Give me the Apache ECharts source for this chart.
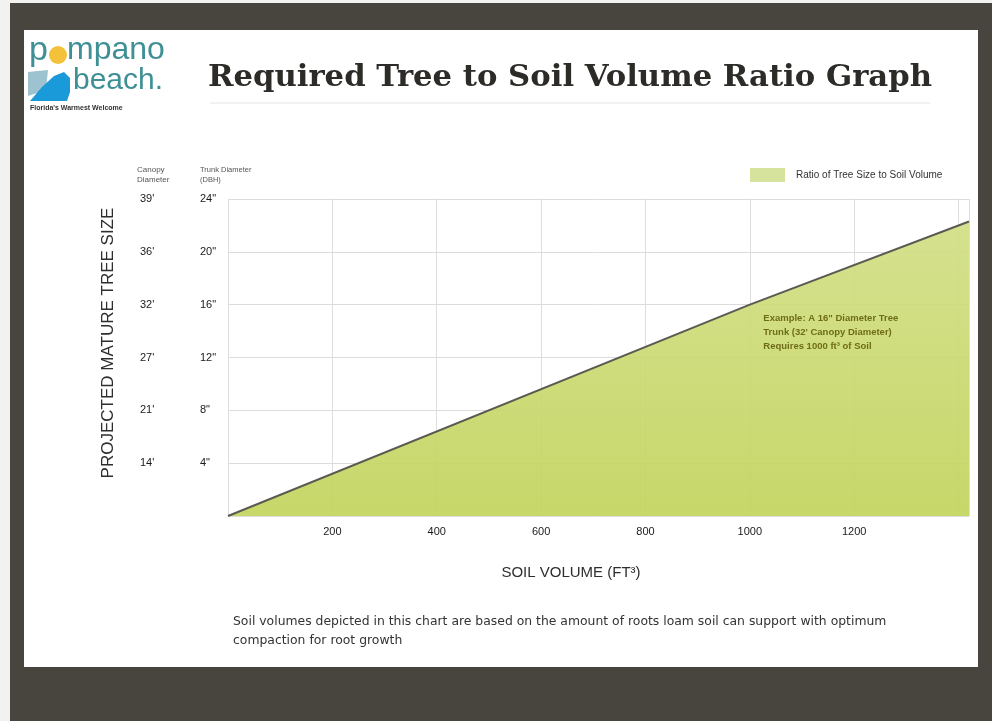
<!DOCTYPE html>
<html>
<head>
<meta charset="utf-8">
<script src="https://cdn.jsdelivr.net/npm/echarts@6/dist/echarts.min.js"></script>
<style>
  html, body { margin: 0; padding: 0; }
  body { width: 992px; height: 721px; background: #48453f; position: relative; overflow: hidden; }
  #edgeL { position: absolute; left: 0; top: 0; width: 10px; height: 721px; background: #f2f2f0; }
  #edgeT { position: absolute; left: 0; top: 0; width: 992px; height: 3px; background: #f2f2f0; }
  #panel { position: absolute; left: 24px; top: 30px; width: 954px; height: 637px; background: #ffffff; }
  #chart { position: absolute; left: 0; top: 0; width: 992px; height: 721px; }
</style>
</head>
<body>
<div id="edgeL"></div>
<div id="edgeT"></div>
<div id="panel"></div>
<div id="chart"></div>
<script>
// Soil volume (ft³) against trunk diameter (in.)
const soilVolume = [0, 1000, 1420];
const trunkDiameter = [0, 16, 22.3];

// Y axis tick labels: trunk diameter (DBH) and matching canopy diameter
const trunkTicks = { 4: '4"', 8: '8"', 12: '12"', 16: '16"', 20: '20"', 24: '24"' };
const canopyTicks = { 4: "14'", 8: "21'", 12: "27'", 16: "32'", 20: "36'", 24: "39'" };

// X axis tick labels
const volumeTicks = [200, 400, 600, 800, 1000, 1200];

const seriesName = 'Ratio of Tree Size to Soil Volume';
const exampleText = 'Example: A 16" Diameter Tree\nTrunk (32\' Canopy Diameter)\nRequires 1000 ft³ of Soil';
const footnote = 'Soil volumes depicted in this chart are based on the amount of roots loam soil can support with optimum\ncompaction for root growth';

const lineData = soilVolume.map((v, i) => [v, trunkDiameter[i]]);

const chart = echarts.init(document.getElementById('chart'), null, { renderer: 'canvas' });

const SANS = 'Liberation Sans, Arial, sans-serif';
const tickFont = { fontFamily: SANS, fontSize: 11, color: '#1a1a1a' };

chart.setOption({
  backgroundColor: 'transparent',
  animation: false,
  grid: { left: 228, right: 23, top: 199, bottom: 205 },
  legend: {
    left: 745, top: 163,
    icon: 'rect', itemWidth: 35, itemHeight: 14, itemGap: 10,
    data: [{ name: seriesName, itemStyle: { color: '#d6e39c' } }],
    textStyle: { fontFamily: SANS, fontSize: 10, color: '#333', padding: [0, 0, 0, 6] }
  },
  xAxis: {
    type: 'value', min: 0, max: 1420, interval: 200,
    axisLine: { show: false }, axisTick: { show: false },
    splitLine: { show: true, lineStyle: { color: '#dedede', width: 1 } },
    axisLabel: {
      ...tickFont, margin: 10, showMaxLabel: false,
      formatter: v => volumeTicks.includes(v) ? String(v) : ''
    }
  },
  yAxis: [
    {
      type: 'value', min: 0, max: 24, interval: 4, position: 'left',
      axisLine: { show: false }, axisTick: { show: false },
      splitLine: { show: true, lineStyle: { color: '#dcdcdc', width: 1 } },
      axisLabel: { ...tickFont, align: 'left', margin: 28, formatter: v => trunkTicks[v] || '' }
    },
    {
      type: 'value', min: 0, max: 24, interval: 4, position: 'left',
      axisLine: { show: false }, axisTick: { show: false }, splitLine: { show: false },
      axisLabel: { ...tickFont, align: 'left', margin: 88, formatter: v => canopyTicks[v] || '' }
    }
  ],
  series: [{
    name: seriesName,
    type: 'line',
    data: lineData,
    showSymbol: false,
    symbol: 'none',
    itemStyle: { color: '#d6e39c' },
    lineStyle: { color: '#5b5a52', width: 2 },
    areaStyle: {
      opacity: 0.93,
      color: new echarts.graphic.LinearGradient(0, 0, 0, 1, [
        { offset: 0, color: '#d2df86' },
        { offset: 1, color: '#c3d45e' }
      ])
    },
    markPoint: {
      symbol: 'circle', symbolSize: 1,
      itemStyle: { color: 'rgba(0,0,0,0)' },
      data: [{ coord: [soilVolume[1], trunkDiameter[1]] }],
      label: {
        show: true, formatter: exampleText, position: [14, 7],
        align: 'left', verticalAlign: 'top',
        fontFamily: SANS, fontSize: 9.5, lineHeight: 14,
        fontWeight: 'bold', color: '#6f6c18'
      }
    }
  }],
  graphic: [
    // logo
    { type: 'polygon', shape: { points: [[28, 72], [48, 70], [46, 90], [28, 96]] }, style: { fill: '#9cc3cf' } },
    { type: 'polygon', shape: { points: [[30, 101], [42, 87], [54, 76], [64, 72], [70, 78], [70, 92], [67, 101]] }, style: { fill: '#1a9ad8' } },
    { type: 'circle', shape: { cx: 58, cy: 55, r: 9 }, style: { fill: '#f3c23a' } },
    { type: 'text', left: 29, top: 34, style: { text: 'p', fontFamily: SANS, fontSize: 34, fill: '#3e9095' } },
    { type: 'text', left: 67, top: 34, style: { text: 'mpano', fontFamily: SANS, fontSize: 32, fill: '#3e9095' } },
    { type: 'text', left: 73, top: 66, style: { text: 'beach.', fontFamily: SANS, fontSize: 30, fill: '#3e9095' } },
    {
      type: 'text', left: 30, top: 105,
      style: { text: "Florida's Warmest Welcome", fontFamily: SANS, fontSize: 7, fontWeight: 'bold', fill: '#333' }
    },
    // title
    {
      type: 'text', left: 208, top: 63,
      style: { text: 'Required Tree to Soil Volume Ratio Graph', fontFamily: 'DejaVu Serif, serif', fontSize: 30.7, fontWeight: 'bold', fill: '#2c2b28' }
    },
    { type: 'line', shape: { x1: 210, y1: 103, x2: 930, y2: 103 }, style: { stroke: '#e4e4e4', lineWidth: 1 } },
    // axis column headers
    {
      type: 'text', left: 137, top: 165,
      style: { text: 'Canopy\nDiameter', fontFamily: SANS, fontSize: 8, lineHeight: 10, fill: '#555' }
    },
    {
      type: 'text', left: 200, top: 165,
      style: { text: 'Trunk Diameter\n(DBH)', fontFamily: SANS, fontSize: 7.5, lineHeight: 10, fill: '#555' }
    },
    // axis titles
    {
      type: 'text', x: 108, y: 343, rotation: Math.PI / 2,
      style: { text: 'PROJECTED MATURE TREE SIZE', fontFamily: SANS, fontSize: 17, fill: '#2e2e2e', align: 'center', verticalAlign: 'middle' }
    },
    {
      type: 'text', x: 571, y: 573,
      style: { text: 'SOIL VOLUME (FT³)', fontFamily: SANS, fontSize: 15, fill: '#2e2e2e', align: 'center', verticalAlign: 'middle' }
    },
    // footnote
    {
      type: 'text', left: 233, top: 612,
      style: { text: footnote, fontFamily: 'DejaVu Sans, sans-serif', fontSize: 12.4, lineHeight: 19, fill: '#333' }
    }
  ]
});
</script>
</body>
</html>
